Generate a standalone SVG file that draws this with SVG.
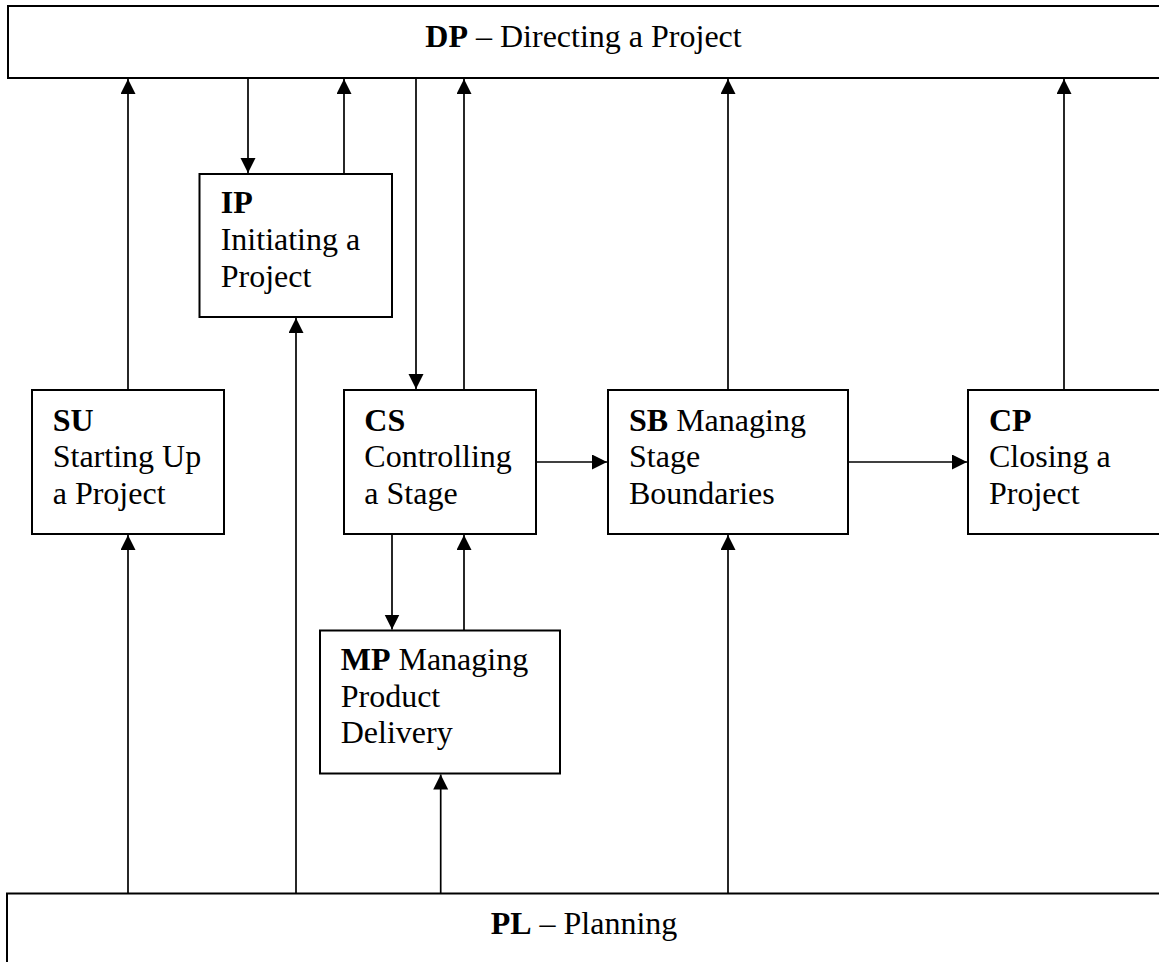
<svg xmlns="http://www.w3.org/2000/svg" width="1159" height="962" viewBox="0 0 1159 962">
<style>
.box{fill:#fff;stroke:#000;stroke-width:2}
.t{font-family:"Liberation Serif","Times New Roman",serif;font-size:32px;fill:#000}
.b{font-weight:bold}
.c{fill:none;stroke:#000;stroke-width:1.7}
</style>
<defs>
<marker id="ah" markerUnits="userSpaceOnUse" markerWidth="16" markerHeight="16" refX="15" refY="7.5" orient="auto">
<path d="M0,0 L15,7.5 L0,15 z" fill="#000"/>
</marker>
</defs>
<rect width="1159" height="962" fill="#fff"/>
<g id="DP">
<rect class="box" x="8" y="6" width="1160" height="72"/>
<text class="t" x="583.5" y="46.7" text-anchor="middle"><tspan class="b">DP</tspan> – Directing a Project</text>
</g>
<g id="IP">
<rect class="box" x="199.5" y="174" width="192.5" height="143"/>
<text class="t" x="220.7" y="213.3"><tspan class="b">IP</tspan></text>
<text class="t" x="220.7" y="250">Initiating a</text>
<text class="t" x="220.7" y="286.7">Project</text>
</g>
<g id="SU">
<rect class="box" x="32" y="390" width="192" height="144"/>
<text class="t" x="52.7" y="430.5"><tspan class="b">SU</tspan></text>
<text class="t" x="52.7" y="467.2">Starting Up</text>
<text class="t" x="52.7" y="503.9">a Project</text>
</g>
<g id="CS">
<rect class="box" x="344" y="390" width="192" height="144"/>
<text class="t" x="364.3" y="430.5"><tspan class="b">CS</tspan></text>
<text class="t" x="364.3" y="467.2">Controlling</text>
<text class="t" x="364.3" y="503.9">a Stage</text>
</g>
<g id="SB">
<rect class="box" x="608" y="390" width="240" height="144"/>
<text class="t" x="629" y="430.5"><tspan class="b">SB</tspan> Managing</text>
<text class="t" x="629" y="467.2">Stage</text>
<text class="t" x="629" y="503.9">Boundaries</text>
</g>
<g id="CP">
<rect class="box" x="968" y="390" width="200" height="144"/>
<text class="t" x="989" y="430.5"><tspan class="b">CP</tspan></text>
<text class="t" x="989" y="467.2">Closing a</text>
<text class="t" x="989" y="503.9">Project</text>
</g>
<g id="MP">
<rect class="box" x="320" y="630.5" width="240" height="143"/>
<text class="t" x="340.7" y="670"><tspan class="b">MP</tspan> Managing</text>
<text class="t" x="340.7" y="706.7">Product</text>
<text class="t" x="340.7" y="743.3">Delivery</text>
</g>
<g id="PL">
<rect class="box" x="7" y="893.5" width="1160" height="80"/>
<text class="t" x="584" y="934" text-anchor="middle"><tspan class="b">PL</tspan> – Planning</text>
</g>
<g id="connectors">
<path class="c" d="M128,390 V79" marker-end="url(#ah)"/>
<path class="c" d="M248,78 V173" marker-end="url(#ah)"/>
<path class="c" d="M344,174 V79" marker-end="url(#ah)"/>
<path class="c" d="M416,78 V389" marker-end="url(#ah)"/>
<path class="c" d="M464,390 V79" marker-end="url(#ah)"/>
<path class="c" d="M728,390 V79" marker-end="url(#ah)"/>
<path class="c" d="M1064,390 V79" marker-end="url(#ah)"/>
<path class="c" d="M536,462 H607" marker-end="url(#ah)"/>
<path class="c" d="M848,462 H967" marker-end="url(#ah)"/>
<path class="c" d="M392,534 V629.5" marker-end="url(#ah)"/>
<path class="c" d="M464,630.5 V535" marker-end="url(#ah)"/>
<path class="c" d="M128,893.5 V535" marker-end="url(#ah)"/>
<path class="c" d="M296,893.5 V318" marker-end="url(#ah)"/>
<path class="c" d="M440.7,893.5 V774.5" marker-end="url(#ah)"/>
<path class="c" d="M728,893.5 V535" marker-end="url(#ah)"/>
</g>
</svg>
